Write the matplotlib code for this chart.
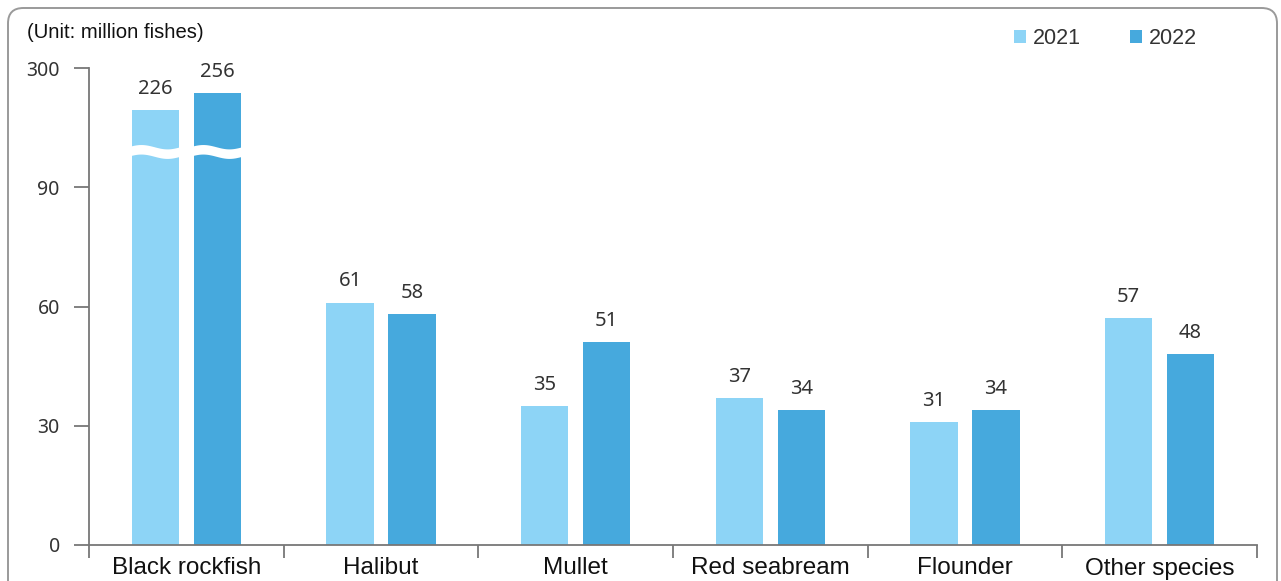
import matplotlib.pyplot as plt
import numpy as np
from matplotlib.patches import FancyBboxPatch

# data
species = ["Black rockfish", "Halibut", "Mullet", "Red seabream", "Flounder", "Other species"]
v2021 = [226, 61, 35, 37, 31, 57]
v2022 = [256, 58, 51, 34, 34, 48]
years = ["2021", "2022"]
yticks = [0, 30, 60, 90, 300]

c2021 = "#8dd4f6"
c2022 = "#46a9dd"
txt = "#333333"

# broken axis: above 90 the scale is squeezed
def fwd(v):
    v = np.asarray(v, dtype=float)
    return np.where(v <= 90, v, 90 + (v - 90) / 7.0)

def inv(t):
    t = np.asarray(t, dtype=float)
    return np.where(t <= 90, t, 90 + (t - 90) * 7.0)

fig = plt.figure(figsize=(12.81, 5.81), dpi=100)
ax = fig.add_axes([89 / 1281, 1 - 545 / 581, (1257 - 89) / 1281, (545 - 68) / 581])
ax.set_yscale("function", functions=(fwd, inv))

x = np.arange(len(species))
w = 0.242
off = 0.159
b1 = ax.bar(x - off, v2021, w, color=c2021, label=years[0], zorder=2)
b2 = ax.bar(x + off, v2022, w, color=c2022, label=years[1], zorder=2)

for bars, vals in [(b1, v2021), (b2, v2022)]:
    for r, v in zip(bars, vals):
        ax.annotate(str(v), (r.get_x() + r.get_width() / 2, v), xytext=(0, 8),
                    textcoords="offset points", ha="center", va="bottom",
                    fontsize=14.5, color=txt, family="Noto Sans", clip_on=False)

# wavy white break on the black rockfish bars
for xc in [x[0] - off, x[0] + off]:
    xs = np.linspace(xc - w / 2 - 0.01, xc + w / 2 + 0.01, 60)
    ph = (xs - (xc - w / 2)) / w
    mid = 99.0 + 0.55 * np.sin(2 * np.pi * ph * 0.9 + np.pi * 0.15)
    ax.fill_between(xs, inv(mid - 1.2), inv(mid + 1.2), color="white", zorder=3, lw=0)

ax.set_xlim(-0.5, len(species) - 0.5)
ax.set_ylim(0, 300)
ax.set_yticks(yticks)
ax.set_yticklabels([str(t) for t in yticks], fontsize=14, color=txt, family="Noto Sans")
ax.set_xticks(x)
ax.set_xticklabels(species, fontsize=17.5, color="#111111", family="Liberation Sans")
ax.set_xticks(np.arange(len(species) + 1) - 0.5, minor=True)
ax.tick_params(axis="x", which="major", length=0, pad=9)
ax.tick_params(axis="x", which="minor", length=9, width=1.3, color="#777777", direction="out")
ax.tick_params(axis="y", length=11, width=1.3, color="#777777", pad=10)

for s in ["top", "right"]:
    ax.spines[s].set_visible(False)
for s in ["left", "bottom"]:
    ax.spines[s].set_color("#777777")
    ax.spines[s].set_linewidth(1.3)

# unit text and legend
fig.text(27 / 1281, 1 - 33 / 581, "(Unit: million fishes)", fontsize=14.6, color="#111111",
         family="Liberation Sans", va="center", ha="left")
leg = ax.legend(loc="upper right", bbox_to_anchor=(1216 / 1281, 1 - 9 / 581),
                bbox_transform=fig.transFigure, ncol=2, frameon=False,
                prop={"family": "Liberation Sans", "size": 15.5},
                handlelength=0.55, handleheight=0.55, columnspacing=2.3, handletextpad=0.3)
for t in leg.get_texts():
    t.set_color(txt)

# rounded outer frame, cut at the bottom
frame = FancyBboxPatch((8 / 1281, -0.1), (1277 - 8) / 1281, (1 - 8 / 581) + 0.1,
                       boxstyle="round,pad=0,rounding_size=0.012", transform=fig.transFigure,
                       fill=False, edgecolor="#9a9a9a", linewidth=1.4, mutation_aspect=1281 / 581)
fig.patches.append(frame)

fig.savefig("out.png", dpi=100)
